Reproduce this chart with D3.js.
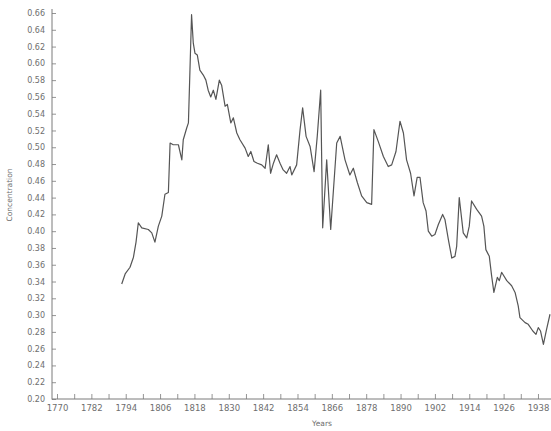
<!DOCTYPE html>
<html>
<head>
<meta charset="utf-8">
<script src="https://cdn.jsdelivr.net/npm/d3@7/dist/d3.min.js"></script>
<style>
  html, body { margin: 0; padding: 0; background: #fff; }
  svg { display: block; }
  text { font-family: "DejaVu Sans", sans-serif; }
</style>
</head>
<body>
<svg id="chart" width="551" height="431"></svg>
<script>
// ---- data ----
const years = [
  1792.6, 1793.8, 1795.5, 1796.7, 1797.6, 1798.4, 1799.6, 1801.9, 1803.1, 1804.2,
  1805.4, 1806.6, 1807.7, 1808.9, 1809.5, 1810.6, 1812.4, 1813.6, 1814.1, 1815.3,
  1815.9, 1817.0, 1817.6, 1818.2, 1819.0, 1819.9, 1821.1, 1822.0, 1822.8, 1823.7,
  1824.6, 1825.5, 1826.7, 1827.5, 1828.7, 1829.5, 1830.7, 1831.6, 1832.8, 1833.9,
  1835.7, 1836.8, 1837.7, 1838.8, 1840.0, 1841.5, 1842.7, 1843.8, 1844.6, 1845.6,
  1846.7, 1847.9, 1849.0, 1850.2, 1851.4, 1852.0, 1853.7, 1854.9, 1855.8, 1857.0,
  1858.4, 1859.8, 1860.9, 1862.1, 1862.8, 1864.2, 1865.6, 1867.7, 1868.9, 1870.6,
  1872.3, 1873.5, 1874.9, 1876.4, 1878.2, 1879.9, 1880.7, 1882.2, 1884.0, 1885.7,
  1886.9, 1888.4, 1889.8, 1891.0, 1892.1, 1893.5, 1894.7, 1895.8, 1896.8, 1897.9,
  1898.9, 1899.7, 1900.9, 1902.0, 1903.2, 1904.7, 1905.5, 1906.7, 1907.9, 1909.0,
  1909.6, 1910.5, 1911.9, 1913.1, 1914.0, 1914.8, 1916.6, 1918.3, 1919.1, 1919.8,
  1921.0, 1921.8, 1922.6, 1923.8, 1924.5, 1925.3, 1927.1, 1928.8, 1930.0, 1931.1,
  1931.7, 1933.5, 1934.6, 1936.2, 1937.3, 1938.1, 1938.9, 1939.9, 1941.0, 1942.2
];
const concentration = [
  0.337, 0.349, 0.357, 0.369, 0.387, 0.410, 0.404, 0.402, 0.398, 0.387,
  0.406, 0.418, 0.444, 0.446, 0.505, 0.503, 0.503, 0.485, 0.509, 0.523,
  0.529, 0.658, 0.624, 0.612, 0.610, 0.592, 0.586, 0.580, 0.568, 0.560,
  0.568, 0.557, 0.580, 0.574, 0.549, 0.551, 0.529, 0.535, 0.517, 0.509,
  0.499, 0.489, 0.495, 0.483, 0.481, 0.479, 0.475, 0.503, 0.469, 0.481,
  0.491, 0.481, 0.473, 0.469, 0.477, 0.467, 0.479, 0.521, 0.547, 0.513,
  0.501, 0.471, 0.513, 0.568, 0.404, 0.485, 0.402, 0.505, 0.513, 0.485,
  0.467, 0.475, 0.458, 0.442, 0.434, 0.432, 0.521, 0.507, 0.489, 0.477,
  0.479, 0.495, 0.531, 0.517, 0.485, 0.469, 0.442, 0.464, 0.464, 0.434,
  0.424, 0.400, 0.394, 0.396, 0.408, 0.420, 0.414, 0.390, 0.368, 0.370,
  0.382, 0.440, 0.398, 0.392, 0.406, 0.436, 0.426, 0.418, 0.406, 0.378,
  0.370, 0.347, 0.327, 0.345, 0.341, 0.351, 0.341, 0.335, 0.327, 0.311,
  0.297, 0.291, 0.289, 0.281, 0.277, 0.285, 0.281, 0.265, 0.283, 0.301
];
const xTickYears = [1770,1776,1782,1788,1794,1800,1806,1812,1818,1824,1830,1836,1842,1848,
  1854,1860,1866,1872,1878,1884,1890,1896,1902,1908,1914,1920,1926,1932,1938];
const xTickLabels = [1770,1782,1794,1806,1818,1830,1842,1854,1866,1878,1890,1902,1914,1926,1938];
const yTickValues = [0.20,0.22,0.24,0.26,0.28,0.30,0.32,0.34,0.36,0.38,0.40,0.42,0.44,
  0.46,0.48,0.50,0.52,0.54,0.56,0.58,0.60,0.62,0.64,0.66];
const xTitle = "Years";
const yTitle = "Concentration";

// ---- drawing ----
const svg = d3.select("#chart");
const axisColor = "#7a7a7a";
const textColor = "#6e6e6e";

const x = d3.scaleLinear().domain([1768.25, 1942.55]).range([52, 551]);
const y = d3.scaleLinear().domain([0.20, 0.66]).range([399, 13]);

const data = years.map((yr, i) => ({ yr, v: concentration[i] }));

// y axis
const yAxis = d3.axisLeft(y)
  .tickValues(yTickValues)
  .tickFormat(d3.format(".2f"))
  .tickSize(-4)
  .tickSizeOuter(0)
  .tickPadding(7);
const gy = svg.append("g").attr("transform", "translate(52,0)").call(yAxis);
gy.select(".domain").remove();
gy.selectAll(".tick line").attr("stroke", axisColor).attr("stroke-width", 0.8);
gy.selectAll(".tick text").attr("fill", textColor).style("font-size", "8px");
svg.append("line")
  .attr("x1", 52).attr("x2", 52).attr("y1", 9).attr("y2", 399.5)
  .attr("stroke", axisColor).attr("stroke-width", 1);

// x axis
const labelSet = new Set(xTickLabels);
const xAxis = d3.axisBottom(x)
  .tickValues(xTickYears)
  .tickFormat(d => labelSet.has(d) ? String(d) : "")
  .tickSize(-5)
  .tickSizeOuter(0)
  .tickPadding(6);
const gx = svg.append("g").attr("transform", "translate(0,399)").call(xAxis);
gx.select(".domain").remove();
gx.selectAll(".tick line").attr("stroke", axisColor).attr("stroke-width", 0.8);
gx.selectAll(".tick text").attr("fill", textColor).style("font-size", "8.5px");
svg.append("line")
  .attr("x1", 52).attr("x2", 551).attr("y1", 399).attr("y2", 399)
  .attr("stroke", axisColor).attr("stroke-width", 1);

// titles
svg.append("text")
  .attr("x", 322).attr("y", 426)
  .attr("text-anchor", "middle")
  .attr("fill", textColor)
  .style("font-size", "7.5px")
  .text(xTitle);
svg.append("text")
  .attr("transform", "translate(12,195) rotate(-90)")
  .attr("text-anchor", "middle")
  .attr("fill", textColor)
  .style("font-size", "7.5px")
  .text(yTitle);

// line
const line = d3.line().x(d => x(d.yr)).y(d => y(d.v));
svg.append("path")
  .datum(data)
  .attr("fill", "none")
  .attr("stroke", "#555555")
  .attr("stroke-width", 1.2)
  .attr("stroke-linejoin", "round")
  .attr("d", line);
</script>
</body>
</html>
